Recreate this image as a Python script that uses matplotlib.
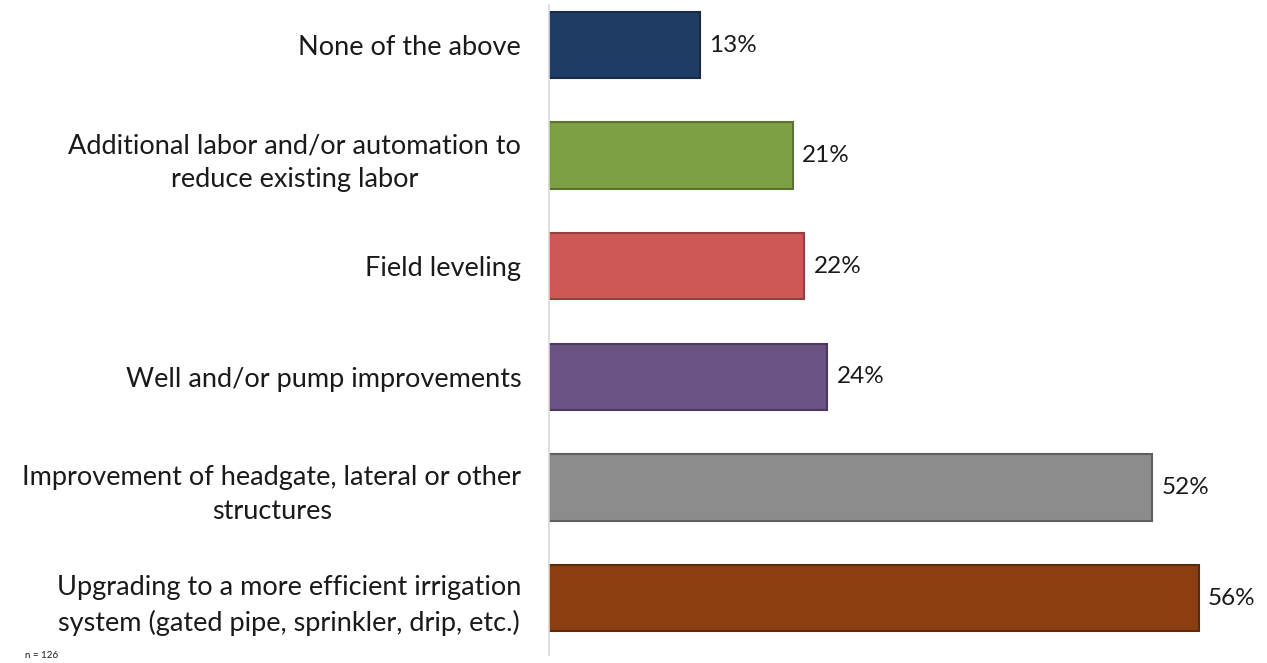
import numpy as np
import matplotlib.pyplot as plt

# survey data (n = 126)
categories = ['None of the above',
              'Additional labor and/or automation to\nreduce existing labor',
              'Field leveling',
              'Well and/or pump improvements',
              'Improvement of headgate, lateral or other\nstructures',
              'Upgrading to a more efficient irrigation\nsystem (gated pipe, sprinkler, drip, etc.)']
values = [13, 21, 22, 24, 52, 56]
colors = ['#1F3C64', '#7F9F45', '#CD5857', '#6A5283', '#8C8C8C', '#8B3E10']
edges = ['#15294A', '#5A7430', '#9A3E3D', '#4A385E', '#5F5F5F', '#5E2A0A']

plt.rcParams['font.family'] = ['Lato', 'DejaVu Sans']
fig = plt.figure(figsize=(12.67, 6.63), dpi=100)
ax = fig.add_axes([549/1267, 8/663, 696/1267, 650/663])

y = np.arange(len(categories))
ax.barh(y, values, height=0.6, color=colors, edgecolor=edges, linewidth=1.5)
for yi, v in zip(y, values):
    ax.text(v + 0.8, yi, f'{v}%', va='center', ha='left', fontsize=17.5, color='#1a1a1a')

ax.set_xlim(0, 60)
ax.set_ylim(5.515, -0.362)
ax.set_yticks(y)
ax.set_yticklabels(categories, fontsize=19.5, color='#1a1a1a', linespacing=1.45,
                   multialignment='center')
ax.tick_params(axis='y', length=0, pad=20)
ax.set_xticks([])
for s in ['top', 'right', 'bottom']:
    ax.spines[s].set_visible(False)
ax.spines['left'].set_color('#D9D9D9')
ax.spines['left'].set_linewidth(1.2)

fig.text(25/1267, 1 - 660/663, 'n = 126', fontsize=7, color='#1a1a1a', va='bottom')

plt.savefig('out.png', dpi=100)
